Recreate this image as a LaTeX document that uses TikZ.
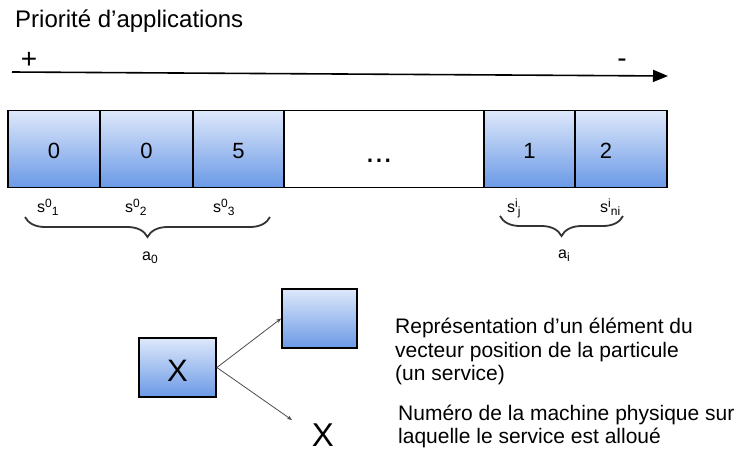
\documentclass[tikz,border=0pt]{standalone}
\usepackage{fontspec}
\setmainfont{Liberation Sans}
\usetikzlibrary{arrows.meta,decorations.pathreplacing}

\newcommand{\fsz}[1]{\fontsize{#1pt}{#1pt}\selectfont}
% letter with a raised index followed by a lowered index
\newcommand{\ixd}[3]{#1\raisebox{4.5pt}{\fsz{12}#2}\raisebox{-3pt}{\fsz{12}#3}}
% text drawn a little lower while keeping its box size
\newcommand{\lowered}[2]{\raisebox{-#1}[\height][0pt]{#2}}

\definecolor{cellTop}{HTML}{DEE8FA}
\definecolor{cellBot}{HTML}{6A99E6}
\definecolor{braceGray}{HTML}{333333}

\tikzset{
  cellbox/.style={draw=black, line width=1.8pt, top color=cellTop, bottom color=cellBot,
                  inner sep=0pt, font=\fsz{22}},
  plainbox/.style={draw=black, line width=1.8pt, fill=white, inner sep=0pt},
  axisline/.style={line width=1.6pt, -{Triangle[length=15pt,width=12pt]}},
  bracebar/.style={draw=braceGray, line width=1.8pt, decorate,
                   decoration={brace, mirror, amplitude=20pt}},
  thinarrow/.style={draw=black!70, line width=0.8pt, -{Stealth[length=5pt,width=4pt]}},
  label/.style={inner sep=0pt, anchor=base west, font=\fsz{16}},
  caption/.style={inner sep=0pt, anchor=base west, font=\fsz{21}},
}

\begin{document}
\begin{tikzpicture}[x=1pt,y=-1pt]
\useasboundingbox (0,0) rectangle (742,458);

% title and priority axis
\node[inner sep=0pt, anchor=base west, font=\fsz{24}] (title) at (15,27) {Priorité d’applications};
\coordinate (ax0) at (12,72);
\coordinate (ax1) at (668,76);
\draw[axisline] (ax0) -- (ax1);
\node[font=\fsz{28}, inner sep=0pt] (plus) at (29,60) {+};
\node[font=\fsz{28}, inner sep=0pt] (minus) at (622,63) {-};

% position vector of the particle
\node[cellbox, minimum width=92pt, minimum height=77pt] (c1) at (54,149) {\lowered{1.5pt}{0}};
\node[cellbox, minimum width=93pt, minimum height=77pt] (c2) at (146.5,149) {\lowered{1.5pt}{0}};
\node[cellbox, minimum width=91pt, minimum height=77pt] (c3) at (238.5,149) {\lowered{1.5pt}{5}};
\node[plainbox, minimum width=200pt, minimum height=77pt] (c4) at (384,149) {};
\node[inner sep=0pt, anchor=base, font=\fsz{32}] (dots) at (379,162) {...};
\node[cellbox, minimum width=91pt, minimum height=77pt] (c5) at (529.5,149) {\lowered{1.5pt}{1}};
\node[cellbox, minimum width=92pt, minimum height=77pt] (c6) at (621,149) {};
\node[inner sep=0pt, font=\fsz{22}] (two) at (606,150.5) {2};

% service labels
\node[label] (s01) at (37,212) {\ixd{s}{0}{1}};
\node[label] (s02) at (125,212) {\ixd{s}{0}{2}};
\node[label] (s03) at (213,212) {\ixd{s}{0}{3}};
\node[label] (sij) at (507,212) {\ixd{s}{i}{j}};
\node[label] (sin) at (600,212) {\ixd{s}{i}{ni}};

% application braces
\coordinate (b0a) at (25,217);
\coordinate (b0b) at (270,217);
\draw[bracebar] (b0a) -- (b0b);
\node[label] (a0) at (142,260) {a\raisebox{-3pt}{\fsz{12}0}};
\coordinate (bia) at (500,216);
\coordinate (bib) at (623,216);
\draw[bracebar] (bia) -- (bib);
\node[label] (ai) at (558,258) {a\raisebox{-3pt}{\fsz{12}i}};

% legend
\node[cellbox, minimum width=77pt, minimum height=59pt, font=\fsz{31}] (xb) at (177.5,367.5) {\lowered{3pt}{X}};
\node[cellbox, minimum width=75pt, minimum height=59pt] (eb) at (319.5,318.5) {};
\node[inner sep=0pt, font=\fsz{33}] (xp) at (323,435) {X};
\coordinate (xtip) at (292,420);
\draw[thinarrow] (xb.east) -- (eb.west);
\draw[thinarrow] (xb.east) -- (xtip);

\node[caption] (r1) at (395,333) {Représentation d’un élément du};
\node[caption] (r2) at (395,357) {vecteur position de la particule};
\node[caption] (r3) at (395,380) {(un service)};
\node[caption] (n1) at (398,420) {Numéro de la machine physique sur};
\node[caption] (n2) at (398,443) {laquelle le service est alloué};
\end{tikzpicture}
\end{document}
